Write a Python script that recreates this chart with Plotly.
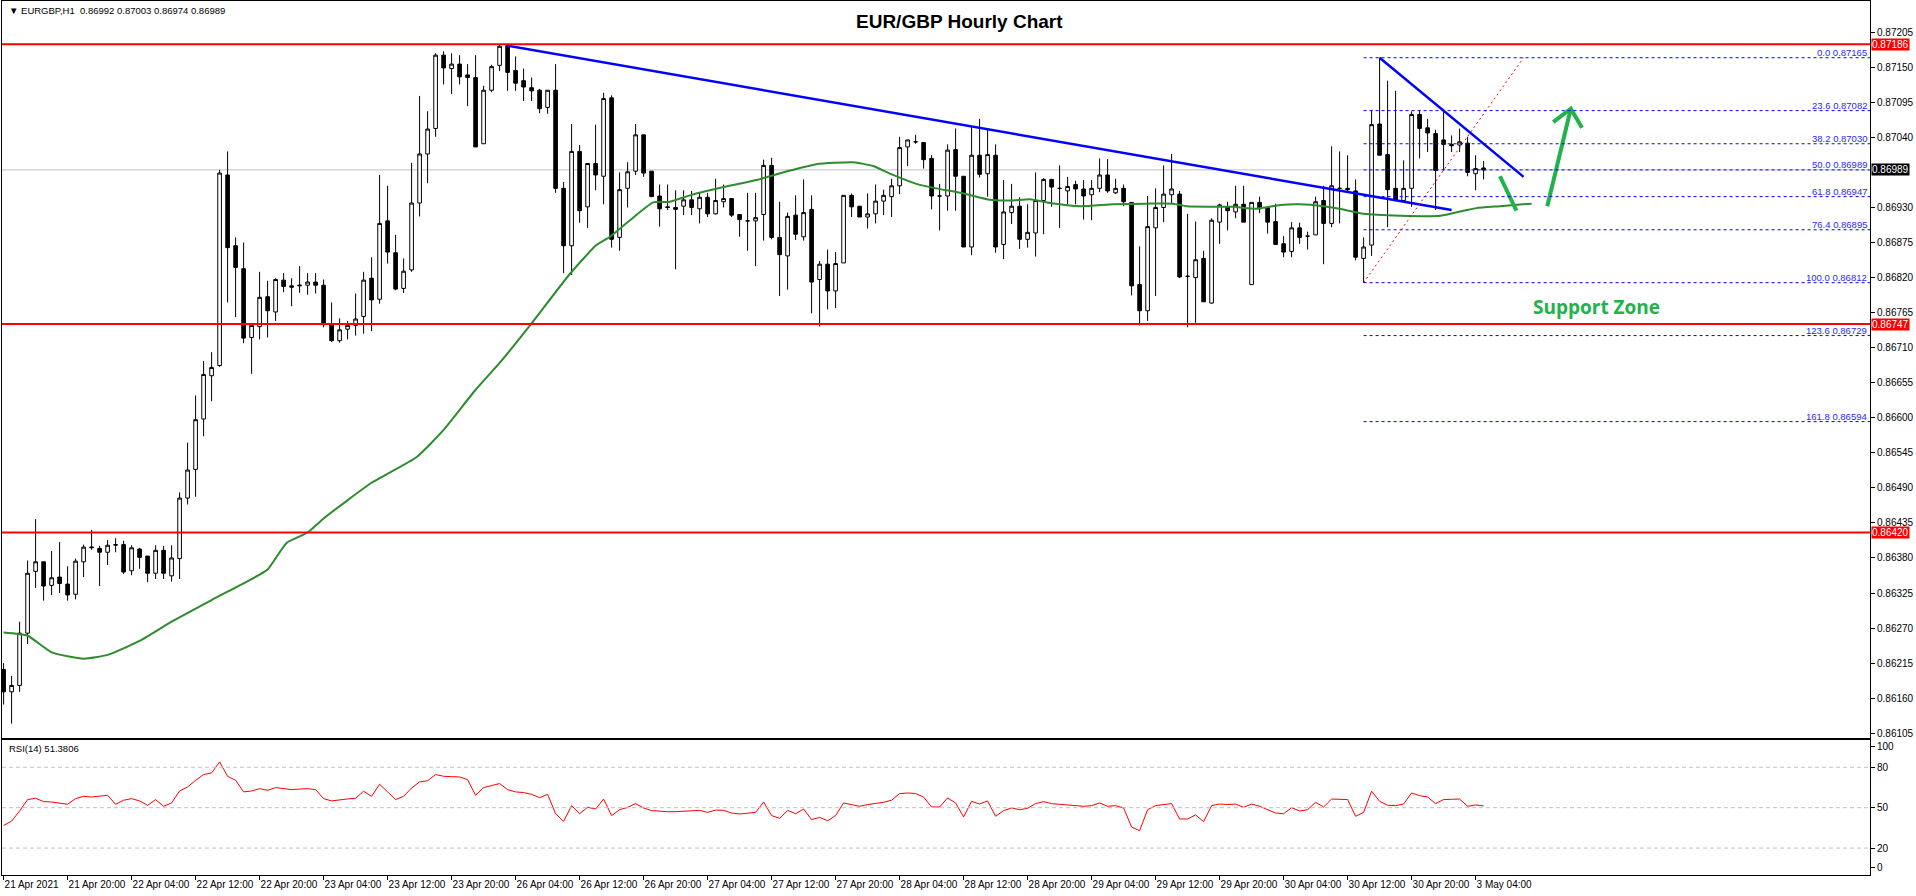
import plotly.graph_objects as go

# hourly bars, index 0 = 21 Apr 12:00 (weekend gaps removed, as in MT4)
opens = [0.86205, 0.86170, 0.86180, 0.86262, 0.86359, 0.86374, 0.86337, 0.86350, 0.86339, 0.86323,
         0.86374, 0.86396, 0.86395, 0.86389, 0.86400, 0.86401, 0.86360, 0.86394, 0.86383, 0.86356,
         0.86392, 0.86352, 0.86379, 0.86474, 0.86519, 0.86598, 0.86666, 0.86682, 0.86981, 0.86870,
         0.86834, 0.86726, 0.86743, 0.86790, 0.86766, 0.86816, 0.86807, 0.86807, 0.86808, 0.86813,
         0.86808, 0.86746, 0.86721, 0.86739, 0.86745, 0.86759, 0.86819, 0.86786, 0.86909, 0.86859,
         0.86803, 0.86832, 0.86937, 0.87014, 0.87054, 0.87169, 0.87148, 0.87155, 0.87138, 0.87134,
         0.87030, 0.87114, 0.87153, 0.87184, 0.87145, 0.87129, 0.87118, 0.87114, 0.87087, 0.87114,
         0.86960, 0.86870, 0.87018, 0.86931, 0.86999, 0.86979, 0.87102, 0.86883, 0.86960, 0.86987,
         0.87044, 0.86987, 0.86948, 0.86931, 0.86930, 0.86932, 0.86942, 0.86928, 0.86946, 0.86920,
         0.86939, 0.86944, 0.86919, 0.86909, 0.86909, 0.86919, 0.86996, 0.86883, 0.86854, 0.86918,
         0.86884, 0.86927, 0.86817, 0.86841, 0.86799, 0.86843, 0.86949, 0.86932, 0.86915, 0.86920,
         0.86940, 0.86947, 0.86964, 0.87025, 0.87033, 0.87032, 0.87007, 0.86948, 0.86948, 0.87021,
         0.86979, 0.86868, 0.87012, 0.86983, 0.87012, 0.86872, 0.86922, 0.86932, 0.86880, 0.86890,
         0.86941, 0.86974, 0.86960, 0.86956, 0.86966, 0.86959, 0.86950, 0.86960, 0.86981, 0.86953,
         0.86960, 0.86938, 0.86809, 0.86768, 0.86898, 0.86930, 0.86950, 0.86951, 0.86822, 0.86820,
         0.86850, 0.86780, 0.86907, 0.86931, 0.86923, 0.86935, 0.86809, 0.86938, 0.86930, 0.86908,
         0.86873, 0.86861, 0.86898, 0.86885, 0.86887, 0.86941, 0.86905, 0.86960, 0.86960, 0.86956,
         0.86850, 0.86871, 0.87061, 0.87013, 0.86960, 0.86941, 0.86960, 0.87076, 0.87055, 0.87046,
         0.87036, 0.87029, 0.87028, 0.87031, 0.86983, 0.86992]
highs = [0.86215, 0.86195, 0.86280, 0.86376, 0.86441, 0.86374, 0.86391, 0.86405, 0.86367, 0.86379,
         0.86401, 0.86424, 0.86399, 0.86408, 0.86411, 0.86407, 0.86400, 0.86396, 0.86383, 0.86400,
         0.86399, 0.86400, 0.86483, 0.86561, 0.86635, 0.86689, 0.86703, 0.86989, 0.87018, 0.86883,
         0.86875, 0.86745, 0.86829, 0.86815, 0.86819, 0.86827, 0.86819, 0.86838, 0.86827, 0.86827,
         0.86817, 0.86781, 0.86756, 0.86752, 0.86795, 0.86829, 0.86852, 0.86981, 0.86964, 0.86887,
         0.86850, 0.87000, 0.87105, 0.87081, 0.87172, 0.87175, 0.87172, 0.87169, 0.87155, 0.87169,
         0.87121, 0.87154, 0.87186, 0.87186, 0.87167, 0.87148, 0.87134, 0.87116, 0.87114, 0.87155,
         0.86970, 0.87061, 0.87028, 0.86999, 0.87060, 0.87110, 0.87106, 0.86985, 0.87001, 0.87061,
         0.87044, 0.86987, 0.86966, 0.86966, 0.86957, 0.86957, 0.86956, 0.86954, 0.86953, 0.86975,
         0.86966, 0.86944, 0.86919, 0.86953, 0.86953, 0.87005, 0.87008, 0.86939, 0.86922, 0.86949,
         0.86974, 0.86949, 0.86846, 0.86864, 0.86860, 0.86949, 0.86952, 0.86932, 0.86952, 0.86966,
         0.86958, 0.86975, 0.87041, 0.87036, 0.87044, 0.87032, 0.87012, 0.86967, 0.87029, 0.87054,
         0.86979, 0.87057, 0.87069, 0.87052, 0.87029, 0.86973, 0.86967, 0.86946, 0.86935, 0.86985,
         0.86976, 0.86975, 0.86996, 0.86978, 0.86972, 0.86973, 0.86973, 0.87007, 0.87006, 0.86975,
         0.86966, 0.86938, 0.86869, 0.86948, 0.86960, 0.86996, 0.87014, 0.86956, 0.86920, 0.86908,
         0.86862, 0.86913, 0.86936, 0.86939, 0.86964, 0.86964, 0.86938, 0.86947, 0.86930, 0.86936,
         0.86885, 0.86907, 0.86906, 0.86892, 0.86947, 0.86964, 0.87026, 0.87018, 0.87012, 0.86974,
         0.86883, 0.87083, 0.87165, 0.87129, 0.87113, 0.87004, 0.87081, 0.87083, 0.87069, 0.87052,
         0.87081, 0.87043, 0.87054, 0.87041, 0.87012, 0.87003]
lows = [0.86150, 0.86120, 0.86170, 0.86245, 0.86333, 0.86313, 0.86322, 0.86325, 0.86313, 0.86315,
        0.86350, 0.86393, 0.86336, 0.86369, 0.86389, 0.86355, 0.86353, 0.86363, 0.86342, 0.86347,
        0.86347, 0.86343, 0.86347, 0.86464, 0.86476, 0.86571, 0.86626, 0.86680, 0.86781, 0.86758,
        0.86717, 0.86669, 0.86723, 0.86726, 0.86752, 0.86797, 0.86775, 0.86796, 0.86793, 0.86795,
        0.86742, 0.86719, 0.86718, 0.86723, 0.86729, 0.86732, 0.86736, 0.86779, 0.86842, 0.86800,
        0.86796, 0.86829, 0.86916, 0.86968, 0.87041, 0.87123, 0.87108, 0.87123, 0.87089, 0.87025,
        0.87030, 0.87111, 0.87144, 0.87113, 0.87113, 0.87097, 0.87097, 0.87078, 0.87077, 0.86953,
        0.86827, 0.86824, 0.86906, 0.86898, 0.86957, 0.86935, 0.86867, 0.86862, 0.86930, 0.86981,
        0.86978, 0.86947, 0.86900, 0.86926, 0.86833, 0.86918, 0.86918, 0.86905, 0.86915, 0.86919,
        0.86930, 0.86915, 0.86884, 0.86862, 0.86838, 0.86878, 0.86880, 0.86791, 0.86801, 0.86879,
        0.86878, 0.86764, 0.86743, 0.86770, 0.86772, 0.86843, 0.86915, 0.86915, 0.86897, 0.86905,
        0.86918, 0.86915, 0.86951, 0.86995, 0.87030, 0.86991, 0.86927, 0.86894, 0.86925, 0.86925,
        0.86868, 0.86855, 0.86977, 0.86947, 0.86859, 0.86849, 0.86904, 0.86865, 0.86867, 0.86853,
        0.86888, 0.86931, 0.86898, 0.86935, 0.86935, 0.86911, 0.86910, 0.86954, 0.86953, 0.86951,
        0.86932, 0.86792, 0.86745, 0.86752, 0.86791, 0.86907, 0.86936, 0.86819, 0.86742, 0.86749,
        0.86782, 0.86779, 0.86873, 0.86894, 0.86913, 0.86907, 0.86809, 0.86921, 0.86889, 0.86872,
        0.86852, 0.86852, 0.86873, 0.86864, 0.86887, 0.86841, 0.86899, 0.86905, 0.86954, 0.86847,
        0.86812, 0.86854, 0.87012, 0.86899, 0.86942, 0.86941, 0.86931, 0.87007, 0.87017, 0.86926,
        0.86988, 0.87017, 0.87017, 0.86979, 0.86957, 0.86974]
closes = [0.86170, 0.86180, 0.86262, 0.86356, 0.86374, 0.86336, 0.86349, 0.86340, 0.86322, 0.86375,
          0.86397, 0.86397, 0.86389, 0.86400, 0.86401, 0.86358, 0.86396, 0.86381, 0.86356, 0.86392,
          0.86356, 0.86380, 0.86474, 0.86518, 0.86597, 0.86668, 0.86679, 0.86984, 0.86867, 0.86836,
          0.86725, 0.86745, 0.86789, 0.86768, 0.86817, 0.86806, 0.86805, 0.86808, 0.86813, 0.86808,
          0.86746, 0.86721, 0.86738, 0.86745, 0.86755, 0.86816, 0.86785, 0.86905, 0.86860, 0.86802,
          0.86830, 0.86937, 0.87014, 0.87053, 0.87169, 0.87149, 0.87155, 0.87135, 0.87134, 0.87025,
          0.87114, 0.87151, 0.87183, 0.87142, 0.87125, 0.87119, 0.87113, 0.87085, 0.87114, 0.86960,
          0.86870, 0.87018, 0.86925, 0.86999, 0.86981, 0.87101, 0.86880, 0.86958, 0.86986, 0.87044,
          0.86984, 0.86947, 0.86928, 0.86930, 0.86927, 0.86942, 0.86930, 0.86946, 0.86920, 0.86941,
          0.86944, 0.86918, 0.86911, 0.86909, 0.86914, 0.86996, 0.86883, 0.86856, 0.86916, 0.86888,
          0.86922, 0.86813, 0.86841, 0.86799, 0.86842, 0.86949, 0.86931, 0.86915, 0.86920, 0.86940,
          0.86949, 0.86964, 0.87024, 0.87036, 0.87033, 0.87005, 0.86948, 0.86948, 0.87020, 0.86979,
          0.86868, 0.87012, 0.86982, 0.87013, 0.86868, 0.86923, 0.86932, 0.86880, 0.86891, 0.86941,
          0.86974, 0.86962, 0.86960, 0.86963, 0.86959, 0.86948, 0.86960, 0.86981, 0.86956, 0.86960,
          0.86939, 0.86807, 0.86768, 0.86900, 0.86930, 0.86951, 0.86959, 0.86821, 0.86822, 0.86848,
          0.86782, 0.86910, 0.86934, 0.86925, 0.86935, 0.86907, 0.86938, 0.86928, 0.86907, 0.86872,
          0.86860, 0.86898, 0.86883, 0.86885, 0.86939, 0.86905, 0.86964, 0.86960, 0.86958, 0.86852,
          0.86868, 0.87060, 0.87012, 0.86958, 0.86942, 0.86960, 0.87076, 0.87054, 0.87047, 0.86988,
          0.87029, 0.87027, 0.87033, 0.86985, 0.86991, 0.86989]

# green moving average at these bar positions
ma_idx = [0, 3, 6, 10, 13, 17, 21, 26, 31, 33, 35.4, 38, 40, 46, 51.6, 55, 59, 62, 65.8, 70.8,
          74.1, 75.8, 78.3, 81.2, 83.3, 85.8, 90, 94.1, 98.3, 101.6, 106.2, 108.7, 110.8, 114.1, 116.6,
          120, 123.3, 126, 128.3, 130.8, 134.6, 138.7, 142.9, 146.2, 147.9, 153.7, 156.6, 159.6, 162.1,
          165, 167, 170, 174.6, 179.6, 182.9, 184.1, 187, 191]
ma_val = [0.86263, 0.86258, 0.86232, 0.86222, 0.86228, 0.86250, 0.86280, 0.86314, 0.86347, 0.86362,
          0.86404, 0.86420, 0.86442, 0.86498, 0.86538, 0.86581, 0.86644, 0.86686, 0.86745, 0.86826,
          0.86871, 0.86884, 0.86910, 0.86938, 0.86939, 0.86949, 0.86962, 0.86973, 0.86988, 0.86998,
          0.87001, 0.86995, 0.86983, 0.86967, 0.86960, 0.86952, 0.86942, 0.86941, 0.86943, 0.86937,
          0.86932, 0.86935, 0.86936, 0.86936, 0.86932, 0.86931, 0.86928, 0.86934, 0.86935, 0.86932,
          0.86928, 0.86920, 0.86917, 0.86917, 0.86926, 0.86929, 0.86932, 0.86936]

rsi = [36.8, 40.0, 47.5, 56.0, 57.0, 54.5, 54.2, 53.5, 52.5, 56.7,
       58.4, 57.9, 58.8, 59.2, 52.5, 55.5, 56.7, 55.0, 51.7, 56.0,
       51.0, 53.5, 62.4, 65.4, 70.3, 74.6, 75.8, 84.0, 73.3, 70.3,
       61.7, 62.4, 64.1, 62.9, 64.9, 64.1, 63.4, 63.8, 64.1, 63.4,
       56.7, 55.0, 56.0, 56.5, 57.0, 62.2, 58.4, 67.4, 61.7, 56.0,
       58.4, 64.6, 69.1, 70.0, 74.6, 73.3, 73.0, 72.8, 70.8, 59.2,
       64.9, 66.5, 67.9, 63.4, 61.7, 61.2, 59.9, 57.4, 59.9, 45.5,
       39.8, 51.5, 45.5, 50.2, 49.0, 56.4, 44.1, 48.5, 50.2, 53.0,
       49.8, 47.8, 47.3, 47.0, 47.0, 47.5, 47.8, 48.0, 46.5, 48.2,
       48.0, 46.0, 45.3, 46.0, 46.5, 54.2, 44.1, 42.1, 48.0, 45.5,
       49.0, 41.1, 42.8, 40.3, 44.1, 53.5, 52.3, 51.0, 52.3, 53.0,
       54.0, 55.5, 60.4, 60.9, 60.5, 57.9, 50.5, 50.5, 57.2, 53.5,
       43.1, 54.7, 52.7, 55.0, 43.6, 47.8, 49.8, 48.5, 49.5, 53.0,
       54.5, 53.0, 52.5, 52.3, 51.5, 51.0, 51.5, 53.5, 51.0, 51.5,
       49.8, 35.6, 32.9, 48.5, 51.5, 52.5, 53.0, 41.6, 41.6, 44.6,
       39.6, 51.5, 52.7, 52.3, 52.7, 50.2, 52.7, 51.0, 48.5, 46.0,
       45.5, 50.0, 47.5, 48.5, 54.0, 50.5, 56.4, 56.2, 56.0, 43.6,
       46.5, 62.2, 54.7, 51.8, 51.5, 52.7, 60.9, 58.9, 57.9, 53.0,
       56.0, 56.2, 56.4, 51.0, 52.0, 51.3806]

x_labels = ["21 Apr 2021", "21 Apr 20:00", "22 Apr 04:00", "22 Apr 12:00", "22 Apr 20:00",
            "23 Apr 04:00", "23 Apr 12:00", "23 Apr 20:00", "26 Apr 04:00", "26 Apr 12:00",
            "26 Apr 20:00", "27 Apr 04:00", "27 Apr 12:00", "27 Apr 20:00", "28 Apr 04:00",
            "28 Apr 12:00", "28 Apr 20:00", "29 Apr 04:00", "29 Apr 12:00", "29 Apr 20:00",
            "30 Apr 04:00", "30 Apr 12:00", "30 Apr 20:00", "3 May 04:00"]
x_tick_pos = list(range(0, 186, 8))

price_ticks = [0.87205, 0.87150, 0.87095, 0.87040, 0.86930, 0.86875, 0.86820, 0.86765, 0.86710,
               0.86655, 0.86600, 0.86545, 0.86490, 0.86435, 0.86380, 0.86325, 0.86270, 0.86215,
               0.86160, 0.86105]

levels_red = [0.87186, 0.86747, 0.86420]
last_price = 0.86989

fib_pct = ["0.0", "23.6", "38.2", "50.0", "61.8", "76.4", "100.0", "123.6", "161.8"]
fib_price = [0.87165, 0.87082, 0.87030, 0.86989, 0.86947, 0.86895, 0.86812, 0.86729, 0.86594]
fib_start = 170
fib_base_x = [170, 190]
fib_base_y = [0.86812, 0.87165]

trend1_x = [63, 181]
trend1_y = [0.87184, 0.86926]
trend2_x = [172, 190]
trend2_y = [0.87165, 0.86978]

arrow_small_x = [187.05, 189.1]
arrow_small_y = [0.86979, 0.86925]
arrow_big_x = [192.96, 195.9]
arrow_big_y = [0.86932, 0.87085]
arrow_wing_x = [193.7, 195.9, 197.3]
arrow_wing_y = [0.87064, 0.87085, 0.87055]

bars = list(range(len(opens)))
x_max = 233.3
axis_font = dict(family="Liberation Sans, Arial, sans-serif", size=10, color="black")

fig = go.Figure()

fig.add_trace(go.Candlestick(
    x=bars, open=opens, high=highs, low=lows, close=closes,
    increasing=dict(line=dict(color="black", width=1), fillcolor="white"),
    decreasing=dict(line=dict(color="black", width=1), fillcolor="black"),
    whiskerwidth=0, hoverinfo="skip", xaxis="x", yaxis="y",
))
fig.add_trace(go.Scatter(x=ma_idx, y=ma_val, mode="lines", line=dict(color="#2e8b2e", width=2, shape="spline", smoothing=0.5),
                         hoverinfo="skip", xaxis="x", yaxis="y"))
fig.add_trace(go.Scatter(x=trend1_x, y=trend1_y, mode="lines", line=dict(color="#0000ff", width=2.5),
                         hoverinfo="skip", xaxis="x", yaxis="y"))
fig.add_trace(go.Scatter(x=trend2_x, y=trend2_y, mode="lines", line=dict(color="#0000ff", width=2.5),
                         hoverinfo="skip", xaxis="x", yaxis="y"))
fig.add_trace(go.Scatter(x=fib_base_x, y=fib_base_y, mode="lines", line=dict(color="red", width=1, dash="2px,3px"),
                         hoverinfo="skip", xaxis="x", yaxis="y"))
for ax, ay in [(arrow_small_x, arrow_small_y), (arrow_big_x, arrow_big_y), (arrow_wing_x, arrow_wing_y)]:
    fig.add_trace(go.Scatter(x=ax, y=ay, mode="lines", line=dict(color="#22b14c", width=4),
                             hoverinfo="skip", xaxis="x", yaxis="y"))

fig.add_trace(go.Scatter(x=bars, y=rsi, mode="lines", line=dict(color="red", width=1),
                         hoverinfo="skip", xaxis="x2", yaxis="y2"))

shapes = []
# current price line
shapes.append(dict(type="line", xref="paper", x0=0, x1=1, yref="y", y0=last_price, y1=last_price,
                   line=dict(color="#c0c0c0", width=1), layer="below"))
for lv in levels_red:
    shapes.append(dict(type="line", xref="paper", x0=0, x1=1, yref="y", y0=lv, y1=lv,
                       line=dict(color="red", width=2)))
for fp in fib_price:
    shapes.append(dict(type="line", xref="x", x0=fib_start, x1=x_max, yref="y", y0=fp, y1=fp,
                       line=dict(color="#0000ff", width=1, dash="3px,3px")))
for lv in [20, 50, 80]:
    shapes.append(dict(type="line", xref="paper", x0=0, x1=1, yref="y2", y0=lv, y1=lv,
                       line=dict(color="#c0c0c0", width=1, dash="4px,3px")))

annotations = []
for pct, fp in zip(fib_pct, fib_price):
    annotations.append(dict(xref="paper", x=1, yref="y", y=fp, text=f"{pct} {fp:.5f}", showarrow=False,
                            xanchor="right", yanchor="bottom", xshift=-1, yshift=-2,
                            font=dict(family="Liberation Sans, Arial, sans-serif", size=9.5, color="#2828ff")))
for lv in levels_red:
    annotations.append(dict(xref="paper", x=1, yref="y", y=lv, text=f"{lv:.5f}", showarrow=False,
                            xanchor="left", yanchor="middle", xshift=1, bgcolor="red", borderpad=0,
                            font=dict(family="Liberation Sans, Arial, sans-serif", size=10, color="white")))
annotations.append(dict(xref="paper", x=1, yref="y", y=last_price, text=f"{last_price:.5f}", showarrow=False,
                        xanchor="left", yanchor="middle", xshift=1, bgcolor="black", borderpad=0,
                        font=dict(family="Liberation Sans, Arial, sans-serif", size=10, color="white")))
annotations.append(dict(xref="paper", x=0.5128, yref="paper", y=0.976, text="<b>EUR/GBP Hourly Chart</b>",
                        showarrow=False, xanchor="center", yanchor="middle",
                        font=dict(family="Liberation Sans, Arial, sans-serif", size=19, color="black")))
annotations.append(dict(xref="paper", x=0.0027, yref="paper", y=0.9889,
                        text=f"▼ EURGBP,H1  {opens[-1]:.5f} {highs[-1]:.5f} {lows[-1]:.5f} {closes[-1]:.5f}",
                        showarrow=False, xanchor="left", yanchor="middle",
                        font=dict(family="Liberation Sans, Arial, sans-serif", size=9.5, color="black")))
annotations.append(dict(xref="paper", x=0.0027, yref="paper", y=0.1453, text=f"RSI(14) {rsi[-1]:.4f}",
                        showarrow=False, xanchor="left", yanchor="middle",
                        font=dict(family="Liberation Sans, Arial, sans-serif", size=9.5, color="black")))
annotations.append(dict(xref="x", x=199.1, yref="y", y=0.86774, text="<b>Support Zone</b>", showarrow=False,
                        xanchor="center", yanchor="middle",
                        font=dict(family="Open Sans, sans-serif", size=19, color="#22b14c")))

fig.update_layout(
    width=1916, height=896, autosize=False,
    margin=dict(l=2, r=46, t=1, b=21),
    paper_bgcolor="white", plot_bgcolor="white",
    showlegend=False, hovermode=False, boxgap=0.35,
    shapes=shapes, annotations=annotations,
    xaxis=dict(domain=[0, 1], anchor="y", range=[-0.2, x_max], showticklabels=False, ticks="",
               showline=True, mirror=True, linecolor="black", linewidth=1, showgrid=False, zeroline=False,
               rangeslider=dict(visible=False)),
    yaxis=dict(domain=[0.1571, 1], anchor="x", side="right", range=[0.86098, 0.87254],
               tickvals=price_ticks, ticktext=[f"{v:.5f}" for v in price_ticks],
               ticks="outside", ticklen=4, tickcolor="black", tickfont=axis_font,
               showline=True, mirror=True, linecolor="black", linewidth=1, showgrid=False, zeroline=False),
    xaxis2=dict(domain=[0, 1], anchor="y2", range=[-0.2, x_max], tickvals=x_tick_pos, ticktext=x_labels,
                ticks="outside", ticklen=4, tickcolor="black", tickfont=axis_font,
                ticklabelposition="outside right", tickangle=0,
                showline=True, mirror=True, linecolor="black", linewidth=1, showgrid=False, zeroline=False),
    yaxis2=dict(domain=[0, 0.1541], anchor="x2", side="right", range=[0, 100],
                tickvals=[5.2, 20, 50, 80, 95.6], ticktext=["0", "20", "50", "80", "100"],
                ticks="outside", ticklen=4, tickcolor="black", tickfont=axis_font,
                showline=True, mirror=True, linecolor="black", linewidth=1, showgrid=False, zeroline=False),
)

# drop the default page margin so the 1916x896 figure fills the window exactly
fig.write_html("out.html", config={"displayModeBar": False},
               post_script="document.body.style.margin='0';document.body.style.overflow='hidden';")
